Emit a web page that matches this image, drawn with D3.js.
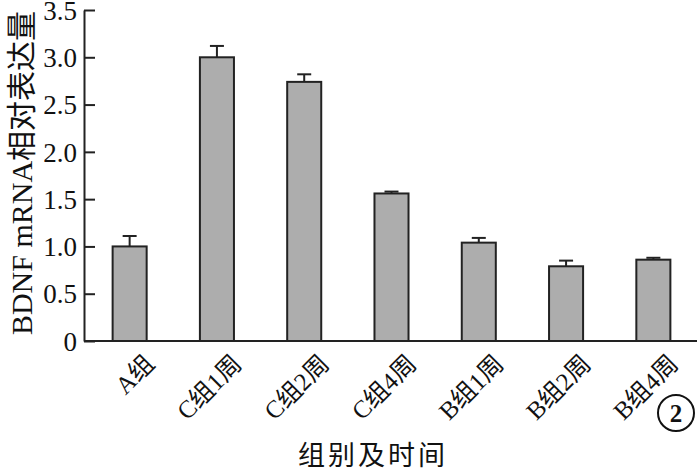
<!DOCTYPE html>
<html><head><meta charset="utf-8">
<script src="https://cdn.jsdelivr.net/npm/d3@7"></script>
<style>body{margin:0;background:#fff}svg{display:block}</style>
</head><body>
<svg id="c" width="700" height="470"></svg>
<script>
const categories = ["A组","C组1周","C组2周","C组4周","B组1周","B组2周","B组4周"];
const means = [1.00, 3.00, 2.74, 1.56, 1.04, 0.79, 0.86];
const errors = [0.11, 0.12, 0.08, 0.02, 0.05, 0.06, 0.02];
const yTicks = [0, 0.5, 1.0, 1.5, 2.0, 2.5, 3.0, 3.5];
const yTickLabels = ["0","0.5","1.0","1.5","2.0","2.5","3.0","3.5"];
const yTitle = "BDNF mRNA相对表达量";
const xTitle = "组别及时间";
const panelLabel = "2";

const svg = d3.select("#c");
const font = "'Liberation Serif','Noto Sans CJK SC',serif";
const y = d3.scaleLinear().domain([0,3.5]).range([341,10]);
const x = d3.scaleBand().domain(categories).range([86,697]).paddingInner(0.61).paddingOuter(0.305);
const axX = 84;

// bars
svg.selectAll("rect.bar").data(categories).enter().append("rect")
  .attr("x", d=>x(d)).attr("width", x.bandwidth())
  .attr("y", (d,i)=>y(means[i])).attr("height",(d,i)=>y(0)-y(means[i]))
  .attr("fill","#adadad").attr("stroke","#222").attr("stroke-width",2);

// error bars
const eg = svg.append("g").attr("stroke","#222").attr("stroke-width",2);
categories.forEach((d,i)=>{
  const cx = x(d)+x.bandwidth()/2;
  eg.append("line").attr("x1",cx).attr("x2",cx).attr("y1",y(means[i])).attr("y2",y(means[i]+errors[i]));
  eg.append("line").attr("x1",cx-7).attr("x2",cx+7).attr("y1",y(means[i]+errors[i])).attr("y2",y(means[i]+errors[i]));
});

// y axis
const yAxis = d3.axisRight(y).tickValues(yTicks).tickFormat((d,i)=>yTickLabels[i]).tickSize(11).tickSizeOuter(0);
const gy = svg.append("g").attr("transform",`translate(${axX},0)`).call(yAxis);
gy.select(".domain").attr("stroke","#222").attr("stroke-width",2);
gy.selectAll(".tick line").attr("stroke","#222").attr("stroke-width",2);
gy.selectAll(".tick text").attr("x",-7).attr("text-anchor","end").attr("dy","0.34em")
  .attr("font-family",font).attr("font-size",27).attr("fill","#111");

// x axis line
svg.append("line").attr("x1",axX).attr("x2",697).attr("y1",y(0)).attr("y2",y(0))
  .attr("stroke","#222").attr("stroke-width",2);

// x labels
svg.selectAll("text.xl").data(categories).enter().append("text")
  .attr("transform", d=>`translate(${x(d)+x.bandwidth()/2+14},353) rotate(-45)`)
  .attr("text-anchor","end").attr("dy","0.7em")
  .attr("font-family",font).attr("font-size",25).attr("fill","#111")
  .text(d=>d);

// titles
svg.append("text").attr("transform","translate(32,173) rotate(-90)")
  .attr("text-anchor","middle").attr("font-family",font).attr("font-size",30).attr("fill","#111")
  .text(yTitle);
svg.append("text").attr("x",373).attr("y",465).attr("text-anchor","middle")
  .attr("font-family",font).attr("font-size",27).attr("letter-spacing",3).attr("fill","#111").text(xTitle);

// panel label
svg.append("circle").attr("cx",676).attr("cy",413).attr("r",18).attr("fill","none").attr("stroke","#111").attr("stroke-width",2);
svg.append("text").attr("x",676).attr("y",413).attr("dy","0.35em").attr("text-anchor","middle")
  .attr("font-family",font).attr("font-weight","bold").attr("font-size",25).attr("fill","#111").text(panelLabel);
</script>
</body></html>
